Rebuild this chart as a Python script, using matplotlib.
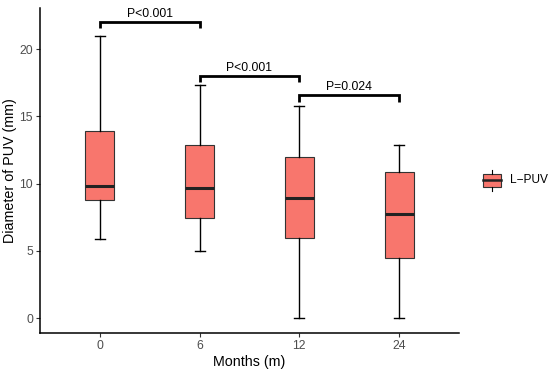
import matplotlib
matplotlib.use("Agg")
import matplotlib.pyplot as plt
from matplotlib.patches import Rectangle
from matplotlib.lines import Line2D

plt.rcParams['font.family'] = ['Liberation Sans', 'DejaVu Sans']

# data
months = ['0', '6', '12', '24']
whisker_low = [5.9, 5.0, 0.0, 0.0]
q1 = [8.8, 7.45, 5.95, 4.45]
medians = [9.8, 9.7, 8.9, 7.75]
q3 = [13.9, 12.85, 12.0, 10.9]
whisker_high = [21.0, 17.3, 15.8, 12.9]

# significance brackets: (left group, right group, height, label)
bracket_pairs = [(0, 1), (1, 2), (2, 3)]
bracket_heights = [22.0, 18.0, 16.6]
bracket_labels = ['P<0.001', 'P<0.001', 'P=0.024']

box_color = '#F8766D'

fig = plt.figure(figsize=(5.5, 3.71), dpi=100)
ax = fig.add_axes([0.0727, 0.1024, 0.7618, 0.876])

stats = []
for i in range(len(months)):
    stats.append({
        'whislo': whisker_low[i], 'q1': q1[i], 'med': medians[i],
        'q3': q3[i], 'whishi': whisker_high[i], 'fliers': [], 'label': months[i],
    })

positions = list(range(1, len(months) + 1))
ax.bxp(stats, positions=positions, widths=0.29, patch_artist=True,
       showfliers=False,
       boxprops=dict(facecolor=box_color, edgecolor='#333333', linewidth=0.8),
       medianprops=dict(color='#222222', linewidth=2.2, solid_capstyle='butt'),
       whiskerprops=dict(color='black', linewidth=1.0),
       capprops=dict(color='black', linewidth=1.0),
       capwidths=0.1)

# brackets
for (a, b), h, lab in zip(bracket_pairs, bracket_heights, bracket_labels):
    xa, xb = positions[a], positions[b]
    drop = 0.4 if h > 20 else (0.45 if h > 17 else 0.55)
    ax.plot([xa, xa, xb, xb], [h - drop, h, h, h - drop], color='black',
            linewidth=2.0, solid_joinstyle='miter', solid_capstyle='butt')
    ax.text((xa + xb) / 2, h + 0.15, lab, ha='center', va='bottom',
            fontsize=8.7, color='black')

ax.set_xlim(0.4, 4.6)
ax.set_ylim(-1.1, 23.05)
ax.set_yticks([0, 5, 10, 15, 20])
ax.set_xticks(positions)
ax.set_xticklabels(months)

for side in ['top', 'right']:
    ax.spines[side].set_visible(False)
for side in ['left', 'bottom']:
    ax.spines[side].set_linewidth(1.1)
    ax.spines[side].set_color('black')
ax.tick_params(axis='both', colors='#333333', labelcolor='#4D4D4D',
               labelsize=8.8, length=3, width=0.8, pad=2)

ax.set_xlabel('Months (m)', fontsize=10.3, labelpad=2)
ax.set_ylabel('Diameter of PUV (mm)', fontsize=10.3, labelpad=2)

# legend key drawn by hand, ggplot style
kx, ky, kw, kh = 483 / 550, 1 - 186.5 / 371, 18 / 550, 12.5 / 371
fig.patches.append(Rectangle((kx, ky), kw, kh, transform=fig.transFigure,
                             facecolor=box_color, edgecolor='#333333', linewidth=0.8))
cx = kx + kw / 2
fig.lines.append(Line2D([kx, kx + kw], [ky + kh / 2] * 2, transform=fig.transFigure,
                        color='#222222', linewidth=1.8))
fig.lines.append(Line2D([cx, cx], [ky + kh, ky + kh + 4 / 371], transform=fig.transFigure,
                        color='black', linewidth=0.8))
fig.lines.append(Line2D([cx, cx], [ky, ky - 4 / 371], transform=fig.transFigure,
                        color='black', linewidth=0.8))
fig.text(510 / 550, ky + kh / 2, 'L\u2212PUV', fontsize=8.6, va='center', ha='left')

fig.savefig('out.png', dpi=100)
